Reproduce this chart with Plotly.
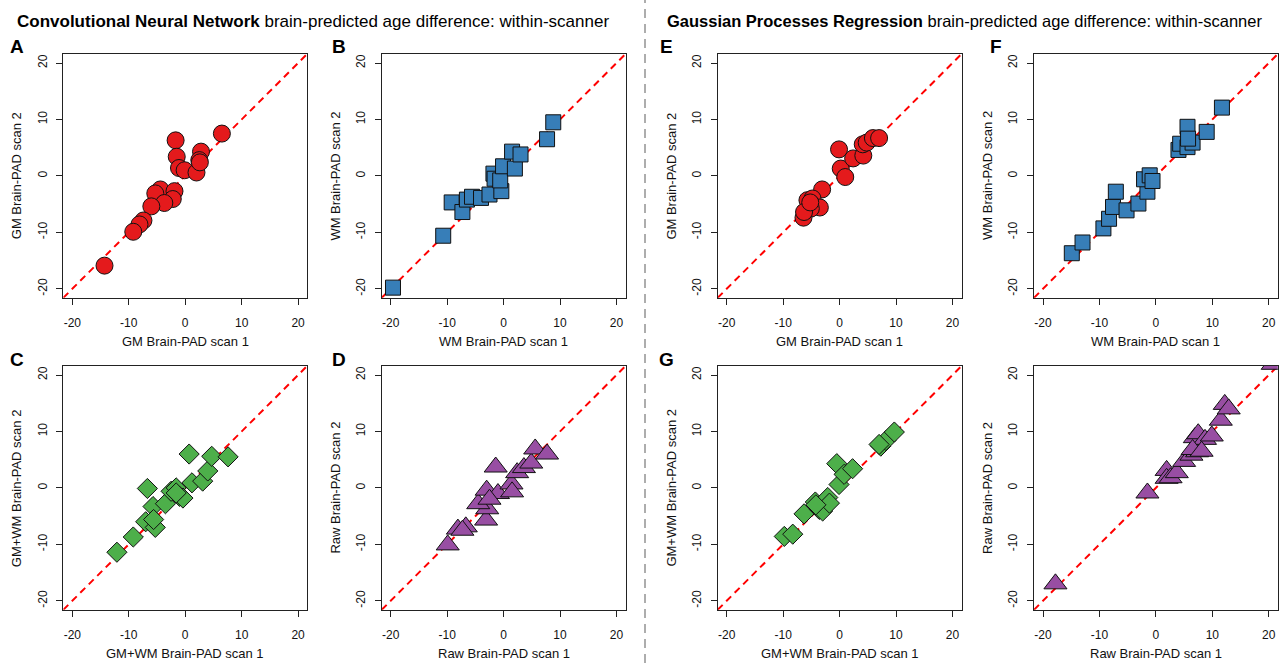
import plotly.graph_objects as go

# ---------------- data (Brain-PAD scan 1 vs scan 2) ----------------
cnn_gm_x = [-14.3, 6.5, -1.7, -1.5, -1.1, -0.1, 2.0, 2.8, 2.5, 2.6, -4.4, -5.3, -1.9, -2.2, -3.7, -6.0, -7.4, -8.1, -9.2]
cnn_gm_y = [-15.9, 7.5, 6.3, 3.4, 1.4, 1.0, 0.6, 4.3, 2.8, 2.4, -2.4, -3.1, -2.7, -4.1, -4.8, -5.4, -7.9, -8.6, -9.9]

cnn_wm_x = [-19.6, -10.7, -9.2, -7.3, -6.5, -5.6, -4.0, -2.5, -0.4, -1.8, -1.6, -0.6, -0.1, 1.5, 2.0, 3.0, 7.7, 8.8]
cnn_wm_y = [-19.8, -10.6, -4.7, -6.4, -4.2, -3.7, -3.9, -3.3, -2.7, 0.4, -0.5, -0.8, 1.7, 4.3, 1.3, 3.8, 6.5, 9.5]

cnn_gmwm_x = [-12.1, -9.2, -6.7, -5.7, -7.0, -5.3, -5.6, -3.5, -2.5, -1.6, -1.0, -0.4, 0.7, 1.2, 3.1, 4.0, 4.7, 7.6, -1.6]
cnn_gmwm_y = [-11.4, -8.7, -0.1, -3.3, -6.0, -7.0, -5.6, -2.8, -0.6, 0.0, -1.5, -1.8, 6.0, 0.9, 1.2, 3.0, 5.6, 5.5, -0.9]

cnn_raw_x = [-9.9, -8.1, -6.7, -7.3, -3.1, -2.9, -4.5, -3.0, -1.0, -2.5, -1.4, 1.4, 1.5, 2.4, 3.6, 4.9, 5.6, 7.7]
cnn_raw_y = [-10.1, -7.3, -6.9, -7.5, -5.7, -3.7, -2.8, -0.4, -1.0, -2.0, 3.7, 0.7, -0.7, 2.7, 3.6, 4.4, 6.9, 6.0]

gpr_gm_x = [-0.1, 0.2, 1.0, 2.4, 4.2, 4.1, 4.8, 5.9, 7.0, -3.1, -5.7, -4.8, -5.1, -3.5, -5.1, -6.4, -6.3, -5.2]
gpr_gm_y = [4.7, 1.3, -0.2, 3.1, 3.6, 5.6, 5.9, 6.7, 6.7, -2.4, -4.3, -4.0, -4.9, -5.6, -5.8, -7.4, -6.4, -4.7]

gpr_wm_x = [-14.9, -13.0, -9.3, -8.3, -7.6, -7.1, -5.2, -3.1, -1.5, -2.1, -1.1, -0.6, 4.0, 4.3, 5.6, 6.5, 5.6, 5.7, 9.0, 11.7]
gpr_wm_y = [-13.7, -11.8, -9.3, -7.6, -5.5, -2.8, -6.1, -4.9, -2.8, -0.6, 0.1, -0.9, 4.6, 5.7, 5.1, 5.9, 8.7, 6.6, 7.8, 12.1]

gpr_gmwm_x = [-9.8, -8.3, -6.3, -4.3, -3.6, -3.0, -2.1, -1.8, -0.1, -0.5, 0.8, 2.3, 7.3, 8.2, 9.7, 7.0, -4.2]
gpr_gmwm_y = [-8.6, -8.2, -4.6, -2.5, -3.8, -4.1, -1.7, -2.7, 0.6, 4.3, 2.4, 3.4, 7.4, 8.4, 9.9, 7.7, -3.0]

gpr_raw_x = [-17.8, -1.5, 1.9, 1.9, 2.6, 3.7, 5.0, 6.3, 7.3, 6.9, 7.5, 8.7, 9.9, 11.5, 12.2, 12.9, 20.7, 6.5, 8.1]
gpr_raw_y = [-17.0, -0.9, 3.1, 1.7, 1.8, 2.7, 4.7, 5.8, 6.4, 8.9, 9.6, 8.6, 9.2, 12.0, 14.8, 14.0, 21.9, 6.8, 6.5]

tick_vals = [-20, -10, 0, 10, 20]
tick_text = ["-20", "-10", "0", "10", "20"]
axis_range = [-21.6, 21.6]

RED = "#E41A1C"
BLUE = "#377EB8"
GREEN = "#4DAF4A"
PURPLE = "#984EA3"

W, H = 1282, 663
FONT = "Liberation Sans, Arial, Helvetica, sans-serif"

# panel specs: (letter, x data, y data, colour, symbol, size, xlabel, ylabel, box_left, box_top, letter_x)
panels = [
    ("A", cnn_gm_x, cnn_gm_y, RED, "circle", 17, "GM Brain-PAD scan 1", "GM Brain-PAD scan 2", 63.3, 54, 17),
    ("B", cnn_wm_x, cnn_wm_y, BLUE, "square", 15, "WM Brain-PAD scan 1", "WM Brain-PAD scan 2", 381.7, 54, 339),
    ("C", cnn_gmwm_x, cnn_gmwm_y, GREEN, "diamond", 15.5, "GM+WM Brain-PAD scan 1", "GM+WM Brain-PAD scan 2", 63.3, 366, 17),
    ("D", cnn_raw_x, cnn_raw_y, PURPLE, "triangle-up", 20, "Raw Brain-PAD scan 1", "Raw Brain-PAD scan 2", 381.7, 366, 339),
    ("E", gpr_gm_x, gpr_gm_y, RED, "circle", 17, "GM Brain-PAD scan 1", "GM Brain-PAD scan 2", 717.7, 54, 666),
    ("F", gpr_wm_x, gpr_wm_y, BLUE, "square", 15, "WM Brain-PAD scan 1", "WM Brain-PAD scan 2", 1034, 54, 996),
    ("G", gpr_gmwm_x, gpr_gmwm_y, GREEN, "diamond", 15.5, "GM+WM Brain-PAD scan 1", "GM+WM Brain-PAD scan 2", 717.7, 366, 666),
    ("", gpr_raw_x, gpr_raw_y, PURPLE, "triangle-up", 20, "Raw Brain-PAD scan 1", "Raw Brain-PAD scan 2", 1034, 366, 996),
]

BOX = 243.8

fig = go.Figure()
annotations = []
layout_axes = {}

for i, (letter, xs, ys, col, sym, msize, xlab, ylab, left, top, lx) in enumerate(panels):
    n = i + 1
    xa = "x" if n == 1 else f"x{n}"
    ya = "y" if n == 1 else f"y{n}"
    xkey = "xaxis" if n == 1 else f"xaxis{n}"
    ykey = "yaxis" if n == 1 else f"yaxis{n}"

    xdom = [left / W, (left + BOX) / W]
    ydom = [1 - (top + BOX) / H, 1 - top / H]

    common = dict(
        range=axis_range, tickmode="array", tickvals=tick_vals, ticktext=tick_text,
        ticks="outside", ticklen=6, tickwidth=1, tickcolor="#222",
        showline=True, linecolor="#222", linewidth=1, mirror=True,
        showgrid=False, zeroline=False,
        tickfont=dict(family=FONT, size=12, color="#111"),
        fixedrange=True,
    )
    layout_axes[xkey] = dict(common, domain=xdom, anchor=ya, ticklabelstandoff=8)
    layout_axes[ykey] = dict(common, domain=ydom, anchor=xa, tickangle=-90, ticklabelstandoff=5)

    # identity line
    fig.add_trace(go.Scatter(
        x=axis_range, y=axis_range, mode="lines", xaxis=xa, yaxis=ya,
        line=dict(color="#FF0000", width=2, dash="7px,5px"), hoverinfo="skip", showlegend=False,
    ))
    # points
    fig.add_trace(go.Scatter(
        x=xs, y=ys, mode="markers", xaxis=xa, yaxis=ya, showlegend=False,
        marker=dict(symbol=sym, size=msize, color=col, line=dict(color="#111", width=1)),
    ))

    cx = left + BOX / 2
    # x axis title
    annotations.append(dict(
        text=xlab, x=cx / W, y=1 - (top + BOX + 44) / H, xref="paper", yref="paper",
        xanchor="center", yanchor="middle", showarrow=False,
        font=dict(family=FONT, size=13, color="#111"),
    ))
    # y axis title
    annotations.append(dict(
        text=ylab, x=(left - 46) / W, y=1 - (top + BOX / 2) / H, xref="paper", yref="paper",
        xanchor="center", yanchor="middle", showarrow=False, textangle=-90,
        font=dict(family=FONT, size=13, color="#111"),
    ))
    if letter:
        annotations.append(dict(
            text=f"<b>{letter}</b>", x=lx / W, y=1 - (top - 7) / H, xref="paper", yref="paper",
            xanchor="center", yanchor="middle", showarrow=False,
            font=dict(family=FONT, size=19, color="#000"),
        ))

# section titles
annotations.append(dict(
    text="<b>Convolutional Neural Network</b> brain-predicted age difference: within-scanner",
    x=313 / W, y=1 - 21 / H, xref="paper", yref="paper", xanchor="center", yanchor="middle",
    showarrow=False, font=dict(family=FONT, size=17, color="#000"),
))
annotations.append(dict(
    text="<b>Gaussian Processes Regression</b> brain-predicted age difference: within-scanner",
    x=964 / W, y=1 - 21 / H, xref="paper", yref="paper", xanchor="center", yanchor="middle",
    showarrow=False, font=dict(family=FONT, size=16.5, color="#000"),
))

fig.update_layout(
    width=W, height=H, autosize=False,
    margin=dict(l=0, r=0, t=0, b=0),
    paper_bgcolor="white", plot_bgcolor="white",
    annotations=annotations,
    shapes=[dict(type="line", xref="paper", yref="paper", x0=645 / W, x1=645 / W, y0=0, y1=1,
                 line=dict(color="#777", width=1.2, dash="9px,6px"))],
    **layout_axes,
)

fig.write_html(
    "out.html",
    config={"displayModeBar": False},
    post_script="document.body.style.margin='0px';document.body.style.overflow='hidden';",
)
